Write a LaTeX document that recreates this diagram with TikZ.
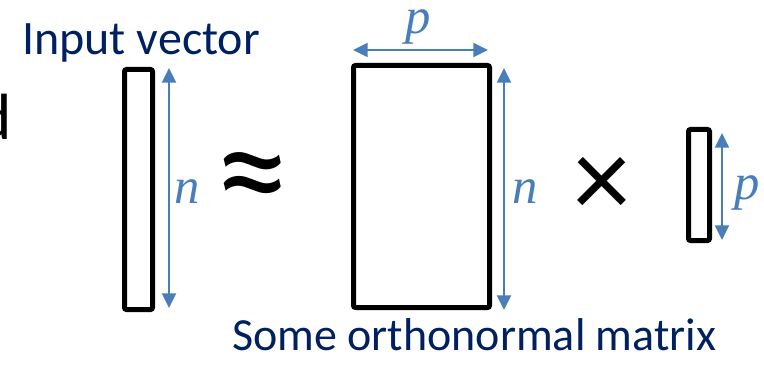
\documentclass[tikz,border=0pt]{standalone}
\usepackage{fontspec}
\setmainfont{Carlito}
\newfontfamily\dimfont{Liberation Serif}
\usetikzlibrary{arrows.meta}
\definecolor{titleblue}{RGB}{0,32,96}
\definecolor{dimblue}{RGB}{74,126,187}
\newcommand{\dimtext}[1]{{\fontsize{38}{40}\dimfont\itshape #1}}
\tikzset{
  block/.style={draw=black,line width=3.75pt,rounded corners=1.5pt,inner sep=0pt},
  dimline/.style={dimblue,line width=1.5pt,{Triangle[width=10.5pt,length=11pt]}-{Triangle[width=10.5pt,length=11pt]}},
  dimlabel/.style={text=dimblue,inner sep=0pt},
  caption/.style={text=titleblue,anchor=base west,inner sep=0pt},
  bigsym/.style={inner sep=0pt,font=\fontsize{#1}{90}\selectfont}
}
\begin{document}
\begin{tikzpicture}[x=0.75pt,y=-0.75pt,font=\fontsize{34.5}{40}\selectfont]
\useasboundingbox (0,0) rectangle (764,367);
% cut-off word on the left
\node[anchor=base east,inner sep=0pt] (cut) at (12,140) {\fontsize{49}{55}\selectfont d};
\node[caption,font=\fontsize{36}{40}\selectfont] (invec) at (22,55) {Input vector};
% input vector
\node[block,minimum width=21pt,minimum height=180pt] (vec) at (138.5,189.5) {};
\coordinate (vtop) at (169,68);
\coordinate (vbot) at (169,308);
\draw[dimline] (vtop) -- (vbot);
\node[dimlabel] (vn) at (187,192) {\dimtext{n}};
\node[bigsym=112] (approx) at (253,187) {≈};
% orthonormal matrix
\node[block,minimum width=102pt,minimum height=181.5pt] (mat) at (421.5,186.5) {};
\coordinate (mleft) at (353,50);
\coordinate (mright) at (488,50);
\draw[dimline] (mleft) -- (mright);
\node[dimlabel] (mp) at (418,27) {\dimtext{p}};
\coordinate (mtop) at (504,68);
\coordinate (mbot) at (504,310);
\draw[dimline] (mtop) -- (mbot);
\node[dimlabel] (mn) at (525,192) {\dimtext{n}};
\node[bigsym=86] (times) at (602,187) {×};
% coefficients
\node[block,minimum width=15.75pt,minimum height=83.25pt] (coef) at (699,185) {};
\coordinate (ctop) at (722,133);
\coordinate (cbot) at (722,240);
\draw[dimline] (ctop) -- (cbot);
\node[dimlabel] (cp) at (747,193) {\dimtext{p}};
\node[caption] (ortho) at (232,350) {Some orthonormal matrix};
\end{tikzpicture}
\end{document}
